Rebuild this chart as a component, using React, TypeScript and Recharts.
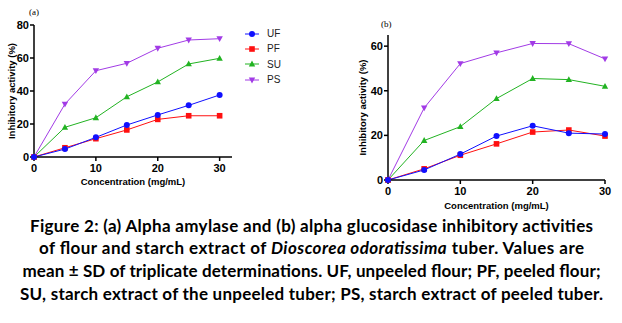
import React from "react";
import { LineChart, Line, XAxis, YAxis } from "recharts";

// concentration (mg/mL)
const conc = [0, 5, 10, 15, 20, 25, 30];

// (a) alpha amylase inhibition (%)
const ufA = [0, 4.8, 11.9, 19.4, 25.5, 31.3, 37.6];
const pfA = [0, 5.6, 11.1, 16.4, 22.8, 25, 25];
const suA = [0, 18, 23.8, 36.5, 45.5, 56.4, 59.8];
const psA = [0, 32.1, 52.3, 56.8, 65.9, 70.9, 71.7];

// (b) alpha glucosidase inhibition (%)
const ufB = [0, 4.5, 11.6, 19.7, 24.3, 21, 20.6];
const pfB = [0, 5, 11.1, 16.2, 21.5, 22.4, 19.7];
const suB = [0, 17.7, 23.9, 36.5, 45.5, 45, 42];
const psB = [0, 32.3, 52.2, 57, 61.2, 61.1, 54.3];

const xTicks = [0, 10, 20, 30];
const yTicksA = [0, 20, 40, 60, 80];
const yTicksB = [0, 20, 40, 60];

const seriesNames = ["UF", "PF", "SU", "PS"];

// caption; text between | is italic
const captionLines = [
  "Figure 2: (a) Alpha amylase and (b) alpha glucosidase inhibitory activities",
  "of flour and starch extract of |Dioscorea odoratissima| tuber. Values are",
  "mean ± SD of triplicate determinations. UF, unpeeled flour; PF, peeled flour;",
  "SU, starch extract of the unpeeled tuber; PS, starch extract of peeled tuber.",
];
const captionWidths = [563, 545, 578, 583];

const colors: Record<string, string> = {
  UF: "#1010ff",
  PF: "#ff1010",
  SU: "#22b322",
  PS: "#a23be6",
};
const shapes: Record<string, string> = {
  UF: "circle",
  PF: "square",
  SU: "up",
  PS: "down",
};

const toRows = (u: number[], p: number[], s: number[], q: number[]) =>
  conc.map((c, i) => ({ c, UF: u[i], PF: p[i], SU: s[i], PS: q[i] }));

const dataA = toRows(ufA, pfA, suA, psA);
const dataB = toRows(ufB, pfB, suB, psB);

const marker = (shape: string, color: string, cx: number, cy: number, key?: any) => {
  if (shape === "circle") return <circle key={key} cx={cx} cy={cy} r={3} fill={color} />;
  if (shape === "square")
    return <rect key={key} x={cx - 2.8} y={cy - 2.8} width={5.6} height={5.6} fill={color} />;
  if (shape === "up")
    return (
      <polygon
        key={key}
        points={`${cx},${cy - 3.4} ${cx + 3.2},${cy + 2.4} ${cx - 3.2},${cy + 2.4}`}
        fill={color}
      />
    );
  return (
    <polygon
      key={key}
      points={`${cx},${cy + 3.4} ${cx + 3.2},${cy - 2.4} ${cx - 3.2},${cy - 2.4}`}
      fill={color}
    />
  );
};

const dotFor = (name: string) => (props: any) => {
  const { cx, cy, key } = props;
  if (cx == null || cy == null) return <g key={key} />;
  return marker(shapes[name], colors[name], cx, cy, key);
};

const axisFont = { fontFamily: "'Liberation Sans', Arial", fontWeight: 700 };
const tickStyle = { ...axisFont, fontSize: 11, fill: "#000" };
const axisLine = { stroke: "#000", strokeWidth: 1.5 };

const Panel: React.FC<{
  data: any[];
  width: number;
  height: number;
  margin: any;
  yWidth: number;
  xHeight: number;
  xMax: number;
  yMax: number;
  yTicks: number[];
  yLabelOffset: number;
  xLabelOffset: number;
}> = (p) => (
  <LineChart width={p.width} height={p.height} data={p.data} margin={p.margin}>
    <XAxis
      dataKey="c"
      type="number"
      domain={[0, p.xMax]}
      ticks={xTicks}
      height={p.xHeight}
      tick={tickStyle}
      tickSize={4}
      tickMargin={3}
      axisLine={axisLine}
      tickLine={axisLine}
      label={{
        value: "Concentration (mg/mL)",
        position: "insideBottom",
        offset: p.xLabelOffset,
        style: { ...axisFont, fontSize: 9.5, fill: "#000" },
      }}
    />
    <YAxis
      type="number"
      domain={[0, p.yMax]}
      ticks={p.yTicks}
      width={p.yWidth}
      tick={tickStyle}
      tickSize={4}
      tickMargin={1}
      axisLine={axisLine}
      tickLine={axisLine}
      label={{
        value: "Inhibitory activity (%)",
        angle: -90,
        position: "insideLeft",
        offset: p.yLabelOffset,
        style: { ...axisFont, fontSize: 9.5, fill: "#000", textAnchor: "middle" },
      }}
    />
    {["PS", "SU", "PF", "UF"].map((n) => (
      <Line
        key={n}
        dataKey={n}
        stroke={colors[n]}
        strokeWidth={1}
        dot={dotFor(n)}
        activeDot={false}
        isAnimationActive={false}
      />
    ))}
  </LineChart>
);

const App: React.FC = () => {
  return (
    <div
      style={{
        position: "fixed",
        left: 0,
        top: 0,
        width: 622,
        height: 323,
        background: "#fff",
        overflow: "hidden",
      }}
    >
      {/* (a) alpha amylase */}
      <div style={{ position: "absolute", left: 0, top: 0 }}>
        <Panel
          data={dataA}
          width={240}
          height={190}
          margin={{ top: 25, right: 8, left: 0, bottom: 0 }}
          yWidth={34}
          xHeight={33}
          xMax={32}
          yMax={80}
          yTicks={yTicksA}
          yLabelOffset={12}
          xLabelOffset={5.5}
        />
      </div>
      <div
        style={{
          position: "absolute",
          left: 29,
          top: 7,
          fontFamily: "'Liberation Serif', serif",
          fontSize: 9,
        }}
      >
        (a)
      </div>

      {/* legend */}
      <div style={{ position: "absolute", left: 244, top: 26 }}>
        {seriesNames.map((n) => (
          <div key={n} style={{ display: "flex", alignItems: "center", height: 15.3 }}>
            <svg width={16} height={8}>
              <line x1={1} y1={4} x2={15} y2={4} stroke={colors[n]} strokeWidth={1} />
              {marker(shapes[n], colors[n], 8, 4)}
            </svg>
            <span
              style={{
                marginLeft: 7,
                fontFamily: "'Liberation Sans', Arial",
                fontSize: 10,
                color: "#222",
              }}
            >
              {n}
            </span>
          </div>
        ))}
      </div>

      {/* (b) alpha glucosidase */}
      <div style={{ position: "absolute", left: 350, top: 0 }}>
        <Panel
          data={dataB}
          width={272}
          height={215}
          margin={{ top: 35, right: 17, left: 0, bottom: 0 }}
          yWidth={38}
          xHeight={35}
          xMax={30}
          yMax={65}
          yTicks={yTicksB}
          yLabelOffset={13}
          xLabelOffset={6.5}
        />
      </div>
      <div
        style={{
          position: "absolute",
          left: 381,
          top: 19,
          fontFamily: "'Liberation Serif', serif",
          fontSize: 9,
        }}
      >
        (b)
      </div>

      {/* caption */}
      <svg
        width={622}
        height={110}
        style={{ position: "absolute", left: 0, top: 210 }}
      >
        {captionLines.map((line, i) => (
          <text
            key={i}
            x={311.5}
            y={21.5 + i * 22.7}
            textAnchor="middle"
            textLength={captionWidths[i]}
            lengthAdjust="spacing"
            fontFamily="Lato, 'Open Sans', sans-serif"
            fontWeight={700}
            fontSize={17}
            fill="#000"
          >
            {line.split("|").map((part, j) => (
              <tspan key={j} fontStyle={j % 2 === 1 ? "italic" : "normal"}>
                {part}
              </tspan>
            ))}
          </text>
        ))}
      </svg>
    </div>
  );
};

export default App;
